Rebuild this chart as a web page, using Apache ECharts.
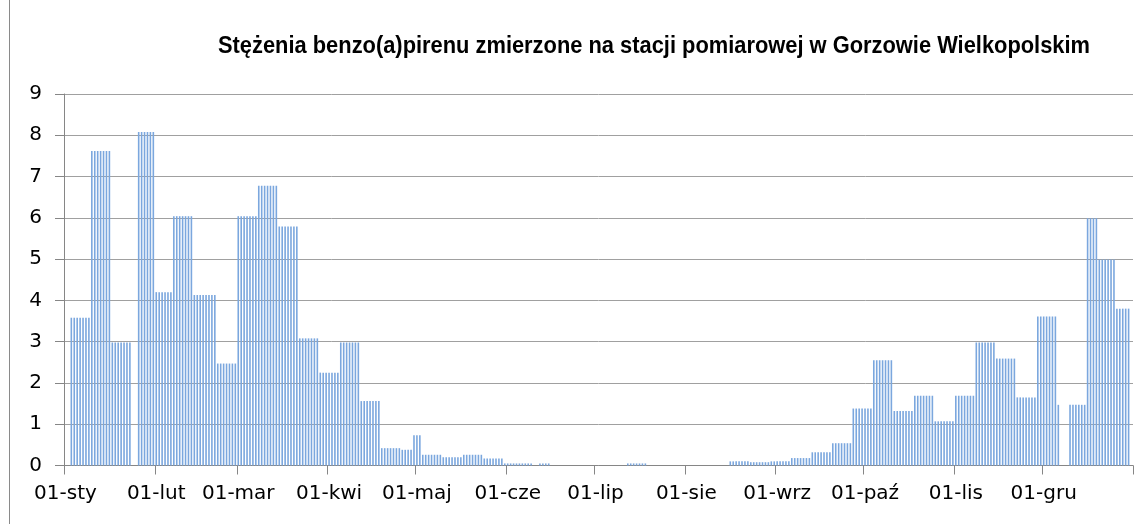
<!DOCTYPE html>
<html>
<head>
<meta charset="utf-8">
<script src="https://cdn.jsdelivr.net/npm/echarts@6/dist/echarts.min.js"></script>
<style>html,body{margin:0;padding:0;background:#fff;}#c{width:1147px;height:524px;}</style>
</head>
<body>
<div id="c"></div>
<script>
// Month names (Polish) and lengths for building the daily category axis
var monthNames = ['sty','lut','mar','kwi','maj','cze','lip','sie','wrz','paź','lis','gru'];
var monthDays = [31,28,31,30,31,30,31,31,30,31,30,31];
// Sampling periods (day-of-year index, 0 = 01-sty) and measured concentration
var periodStart = [2,9,16,25,31,37,44,52,59,66,73,80,87,94,101,108,115,119,122,129,136,143,150,162,192,227,234,241,248,255,262,269,276,283,290,297,304,311,318,325,332,339,343,349,353,359];
var periodEnd   = [8,15,22,30,36,43,51,58,65,72,79,86,93,100,107,114,118,121,128,135,142,149,159,165,198,233,240,247,254,261,268,275,282,289,296,303,310,317,324,331,338,339,348,352,358,363];
var periodValue = [3.58,7.62,2.98,8.08,4.2,6.04,4.13,2.47,6.04,6.78,5.79,3.08,2.25,2.98,1.56,0.42,0.38,0.73,0.26,0.2,0.26,0.17,0.05,0.05,0.05,0.1,0.08,0.1,0.18,0.32,0.54,1.38,2.55,1.32,1.69,1.07,1.69,2.98,2.59,1.65,3.61,1.47,1.47,5.99,4.99,3.8];
var yTicks = [0,1,2,3,4,5,6,7,8,9];
var titleText = 'Stężenia benzo(a)pirenu zmierzone na stacji pomiarowej w Gorzowie Wielkopolskim';

var categories = [];
for (var m = 0; m < 12; m++) {
  for (var d = 1; d <= monthDays[m]; d++) {
    categories.push((d < 10 ? '0' + d : '' + d) + '-' + monthNames[m]);
  }
}
var values = categories.map(function(){ return null; });
for (var i = 0; i < periodStart.length; i++) {
  for (var k = periodStart[i]; k <= periodEnd[i]; k++) values[k] = periodValue[i];
}
function isFirst(idx, val) { return val.indexOf('01-') === 0; }

var titleFont = 'bold 23px "Liberation Sans", Arial, sans-serif';
var titleWidth = echarts.format.getTextRect ? null : null;
var cnv = document.createElement('canvas').getContext('2d');
cnv.font = titleFont;
var measured = cnv.measureText(titleText).width;
var sx = 872 / measured;

var chart = echarts.init(document.getElementById('c'), null, {renderer: 'canvas'});
chart.setOption({
  animation: false,
  backgroundColor: '#fff',
  graphic: [
    {type: 'line', shape: {x1: 9.5, y1: 0, x2: 9.5, y2: 524}, style: {stroke: '#8a8a8a', lineWidth: 1}},
    {type: 'text', x: 654, y: 47, scaleX: sx, originX: 0, originY: 0,
     style: {text: titleText, font: titleFont, fill: '#000', align: 'center', verticalAlign: 'middle'}}
  ],
  grid: {left: 64, right: 14, top: 94, bottom: 58.5, containLabel: false},
  xAxis: {
    type: 'category', data: categories, boundaryGap: true,
    axisLine: {lineStyle: {color: '#868686', width: 1}},
    axisTick: {show: true, interval: isFirst, length: 9, lineStyle: {color: '#868686'}},
    axisLabel: {interval: isFirst, margin: 18, fontFamily: '"DejaVu Sans"', fontSize: 20, color: '#000'},
    splitLine: {show: false}
  },
  yAxis: {
    type: 'value', min: yTicks[0], max: yTicks[yTicks.length-1], interval: 1,
    axisLine: {show: true, lineStyle: {color: '#868686', width: 1}},
    axisTick: {show: true, length: 9, lineStyle: {color: '#868686'}},
    axisLabel: {margin: 22, fontFamily: '"DejaVu Sans"', fontSize: 20, color: '#000'},
    splitLine: {show: true, lineStyle: {color: '#a0a0a0', width: 1}}
  },
  series: [{
    type: 'bar', data: values, barWidth: 1.6,
    itemStyle: {color: '#7BA7DE'},
    emphasis: {disabled: true}
  }]
});
</script>
</body>
</html>
